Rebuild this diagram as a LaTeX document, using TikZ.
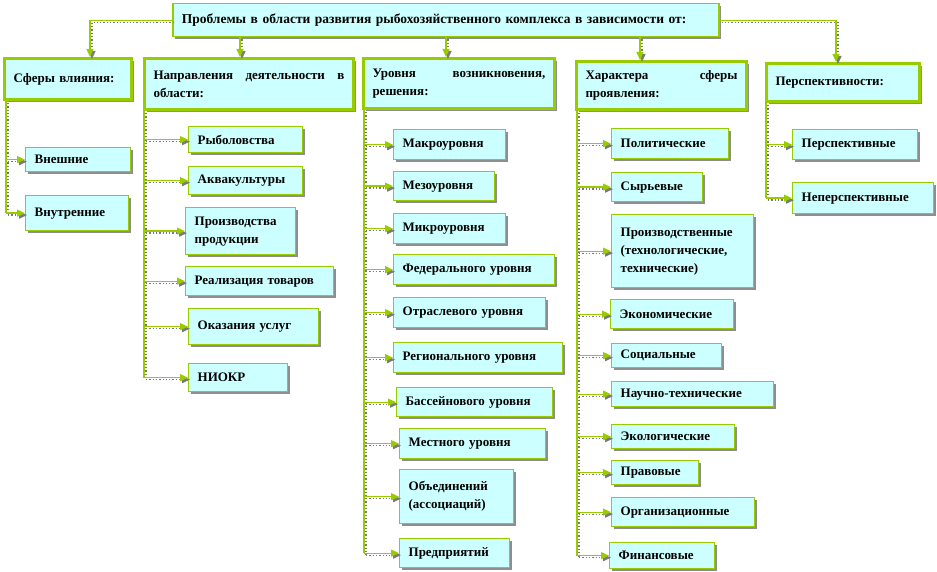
\documentclass[tikz,border=0pt]{standalone}
\usepackage{fontspec}
\setmainfont{Liberation Serif}
\usetikzlibrary{shadows,calc,arrows.meta}
\definecolor{boxfill}{HTML}{CCFFFF}
\definecolor{boxline}{HTML}{99CC00}
\definecolor{shade}{HTML}{7A7A7A}
\tikzset{
  base/.style={draw=boxline, fill=boxfill, anchor=north west, inner xsep=9pt, inner ysep=3pt,
    font=\bfseries\fontsize{13}{18}\selectfont, align=left,
    drop shadow={shadow xshift=2.5pt, shadow yshift=-2.5pt, fill=shade, opacity=0.85}},
  childbox/.style={base, line width=1.3pt},
  hdrbox/.style={base, line width=3pt},
  tip/.style={-{Triangle[length=8pt,width=7pt]}},
  conn/.style={draw=boxline, line width=1.3pt, tip},
  connsh/.style={draw=shade, line width=1.3pt, dotted, tip, transform canvas={xshift=2pt,yshift=-2pt}},
  trunk/.style={draw=boxline, line width=1.3pt},
  trunksh/.style={draw=shade, line width=1.3pt, dotted, transform canvas={xshift=2pt,yshift=-2pt}},
}
\newcommand\bx[7]{%
  \pgfmathsetmacro\tw{#5-18}%
  \node[#1, minimum width=#5pt, minimum height=#6pt, text width=\tw pt] (#2) at (#3,#4) {#7};}
\newcommand\arr[2]{%
  \draw[connsh] (#1 |- #2.west) -- (#2.west);
  \draw[conn] (#1 |- #2.west) -- (#2.west);}
\begin{document}
\begin{tikzpicture}[x=1pt,y=-1pt]
\useasboundingbox (0,0) rectangle (937,572);
% top
\bx{hdrbox, line width=1.5pt, font=\bfseries\fontsize{13.5}{18}\selectfont}{top}{172}{3}{546}{33}{Проблемы в области развития рыбохозяйственного комплекса в зависимости от:}
% headers
\bx{hdrbox}{h1}{3}{57}{127}{41}{Сферы влияния:}
\bx{hdrbox}{h2}{143}{57}{209}{51}{Направления\hfill деятельности\hfill в\\области:}
\bx{hdrbox}{h3}{362}{57}{191}{50}{Уровня\hfill возникновения,\\решения:}
\bx{hdrbox}{h4}{575}{60}{170}{48}{Характера\hfill сферы\\проявления:}
\bx{hdrbox}{h5}{765}{62}{153}{38}{Перспективности:}
% column 1
\bx{childbox}{c11}{25}{147}{105}{24}{Внешние}
\bx{childbox}{c12}{25}{195}{103}{35}{Внутренние}
% column 2
\bx{childbox}{c21}{188}{126}{114}{26}{Рыболовства}
\bx{childbox}{c22}{188}{166}{114}{28}{Аквакультуры}
\bx{childbox}{c23}{185}{207}{110}{47}{Производства\\продукции}
\bx{childbox}{c24}{185}{266}{148}{29}{Реализация товаров}
\bx{childbox}{c25}{188}{308}{130}{36}{Оказания услуг}
\bx{childbox}{c26}{188}{363}{99}{28}{НИОКР}
% column 3
\bx{childbox}{c31}{393}{129}{112}{30}{Макроуровня}
\bx{childbox}{c32}{393}{171}{101}{29}{Мезоуровня}
\bx{childbox}{c33}{393}{213}{112}{30}{Микроуровня}
\bx{childbox}{c34}{393}{254}{161}{30}{Федерального уровня}
\bx{childbox}{c35}{393}{297}{152}{30}{Отраслевого уровня}
\bx{childbox}{c36}{393}{342}{169}{30}{Регионального уровня}
\bx{childbox}{c37}{396}{387}{156}{29}{Бассейнового уровня}
\bx{childbox}{c38}{399}{428}{146}{30}{Местного уровня}
\bx{childbox}{c39}{399}{469}{114}{54}{Объединений\\(ассоциаций)}
\bx{childbox}{c310}{399}{538}{110}{29}{Предприятий}
% column 4
\bx{childbox}{c41}{611}{128}{117}{30}{Политические}
\bx{childbox}{c42}{611}{172}{91}{29}{Сырьевые}
\bx{childbox}{c43}{611}{214}{142}{73}{Производственные\\(технологические,\\технические)}
\bx{childbox}{c44}{610}{299}{123}{29}{Экономические}
\bx{childbox}{c45}{611}{343}{110}{24}{Социальные}
\bx{childbox}{c46}{611}{381}{162}{25}{Научно-технические}
\bx{childbox}{c47}{611}{424}{123}{24}{Экологические}
\bx{childbox}{c48}{611}{460}{87}{24}{Правовые}
\bx{childbox}{c49}{611}{497}{143}{29}{Организационные}
\bx{childbox}{c410}{609}{542}{105}{26}{Финансовые}
% column 5
\bx{childbox}{c51}{792}{129}{125}{30}{Перспективные}
\bx{childbox}{c52}{792}{182}{141}{31}{Неперспективные}
% top connectors
\coordinate (a1) at ($(h1.north west)+(87,0)$);
\coordinate (a2) at ($(h2.north west)+(97,0)$);
\coordinate (a3) at ($(h3.north west)+(84,0)$);
\coordinate (a4) at ($(h4.north west)+(65,0)$);
\coordinate (a5) at ($(h5.north west)+(71,0)$);
\draw[connsh] (top.west) -| (a1);
\draw[conn] (top.west) -| (a1);
\foreach \a in {a2,a3,a4}{
  \draw[connsh] (top.south -| \a) -- (\a);
  \draw[conn] (top.south -| \a) -- (\a);
}
\draw[connsh] (top.east) -| (a5);
\draw[conn] (top.east) -| (a5);
% trunks
\coordinate (t1) at ($(h1.south west)+(3,0)$);
\coordinate (t2) at ($(h2.south west)+(1,0)$);
\coordinate (t3) at ($(h3.south west)+(2,0)$);
\coordinate (t4) at ($(h4.south west)+(2,0)$);
\coordinate (t5) at ($(h5.south west)+(1,0)$);
\draw[trunksh] (t1) -- (t1 |- c12.west);
\draw[trunk] (t1) -- (t1 |- c12.west);
\draw[trunksh] (t2) -- (t2 |- c26.west);
\draw[trunk] (t2) -- (t2 |- c26.west);
\draw[trunksh] (t3) -- (t3 |- c310.west);
\draw[trunk] (t3) -- (t3 |- c310.west);
\draw[trunksh] (t4) -- (t4 |- c410.west);
\draw[trunk] (t4) -- (t4 |- c410.west);
\draw[trunksh] (t5) -- (t5 |- c52.west);
\draw[trunk] (t5) -- (t5 |- c52.west);
% branches
\foreach \c in {c11,c12}{\arr{t1}{\c}}
\foreach \c in {c21,c22,c23,c24,c25,c26}{\arr{t2}{\c}}
\foreach \c in {c31,c32,c33,c34,c35,c36,c37,c38,c39,c310}{\arr{t3}{\c}}
\foreach \c in {c41,c42,c43,c44,c45,c46,c47,c48,c49,c410}{\arr{t4}{\c}}
\foreach \c in {c51,c52}{\arr{t5}{\c}}
\end{tikzpicture}
\end{document}
